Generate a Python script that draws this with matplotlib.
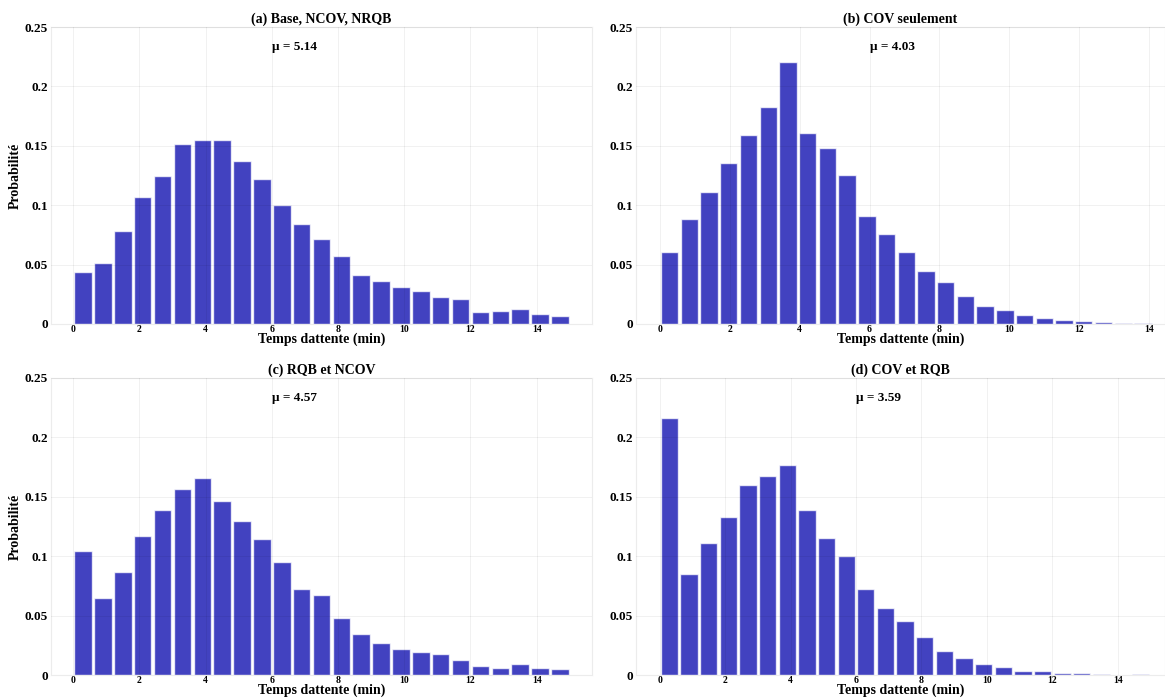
import numpy as np
import matplotlib
matplotlib.use("Agg")
import matplotlib.pyplot as plt

plt.rcParams["font.family"] = ["Liberation Serif", "DejaVu Serif"]
plt.rcParams["font.weight"] = "bold"

# probability per waiting-time bin (25 bins per scenario)
titles = ["(a) Base, NCOV, NRQB", "(b) COV seulement", "(c) RQB et NCOV", "(d) COV et RQB"]
means = [5.14, 4.03, 4.57, 3.59]
t_max = [15.0, 14.1, 15.0, 15.0]

p_base = [0.0440, 0.0512, 0.0787, 0.1069, 0.1249, 0.1512, 0.1545, 0.1551, 0.1372, 0.1218,
          0.1002, 0.0843, 0.0717, 0.0571, 0.0414, 0.0364, 0.0308, 0.0280, 0.0227, 0.0213,
          0.0101, 0.0112, 0.0129, 0.0081, 0.0064]
p_cov = [0.0607, 0.0887, 0.1109, 0.1358, 0.1593, 0.1828, 0.2203, 0.1604, 0.1484, 0.1257,
         0.0910, 0.0756, 0.0610, 0.0445, 0.0353, 0.0238, 0.0148, 0.0120, 0.0078, 0.0048,
         0.0036, 0.0028, 0.0020, 0.0006, 0.0005]
p_rqb_ncov = [0.1047, 0.0644, 0.0871, 0.1170, 0.1391, 0.1562, 0.1660, 0.1467, 0.1293, 0.1142,
              0.0952, 0.0722, 0.0672, 0.0482, 0.0344, 0.0272, 0.0218, 0.0190, 0.0174, 0.0126,
              0.0073, 0.0062, 0.0092, 0.0059, 0.0048]
p_cov_rqb = [0.2164, 0.0848, 0.1109, 0.1333, 0.1599, 0.1677, 0.1767, 0.1386, 0.1153, 0.0999,
             0.0725, 0.0566, 0.0454, 0.0319, 0.0204, 0.0140, 0.0090, 0.0067, 0.0036, 0.0036,
             0.0020, 0.0017, 0.0008, 0.0003, 0.0008]
series = [p_base, p_cov, p_rqb_ncov, p_cov_rqb]

y_ticks = [0, 0.05, 0.1, 0.15, 0.2, 0.25]
y_tick_labels = ["0", "0.05", "0.1", "0.15", "0.2", "0.25"]
x_ticks = [0, 2, 4, 6, 8, 10, 12, 14]

W, H = 1165, 699
fig = plt.figure(figsize=(W / 100, H / 100), dpi=100)

# axes boxes in pixels: left, right, top, bottom
boxes = [(51, 592, 27, 324), (636, 1165, 27, 324),
         (51, 592, 378, 675), (636, 1165, 378, 675)]
xlims = [(-0.67, 15.67), (-0.68, 14.45), (-0.67, 15.67), (-0.72, 15.44)]

for i in range(4):
    l, r, t, b = boxes[i]
    ax = fig.add_axes([l / W, 1 - b / H, (r - l) / W, (b - t) / H])
    vals = np.array(series[i])
    edges = np.linspace(0, t_max[i], len(vals) + 1)
    centers = (edges[:-1] + edges[1:]) / 2
    bw = edges[1] - edges[0]
    ax.bar(centers, vals, width=bw * 0.88, color="#0000aa", alpha=0.74,
           edgecolor="white", linewidth=1.0, zorder=1)

    ax.set_xlim(*xlims[i])
    ax.set_ylim(0, 0.25)
    ax.set_yticks(y_ticks)
    ax.set_yticklabels(y_tick_labels, fontsize=9.5, fontweight="bold")
    ax.set_xticks(x_ticks)
    ax.set_xticklabels([str(v) for v in x_ticks], fontsize=7, fontweight="bold")
    ax.tick_params(axis="y", length=0, pad=2)
    ax.tick_params(axis="x", length=0, pad=1)
    ax.grid(True, color="black", alpha=0.055, linewidth=0.7, zorder=3)
    ax.set_axisbelow(False)
    for s in ax.spines.values():
        s.set_color("#ececec")
        s.set_linewidth(0.8)

    ax.set_title(titles[i], fontsize=10, fontweight="bold", pad=3)
    ax.text(6.0, 0.233, "\u03bc = %.2f" % means[i], fontsize=9.5, fontweight="bold",
            ha="left", va="center")
    ax.set_xlabel("Temps dattente (min)", fontsize=10, fontweight="bold", labelpad=-1)
    if i % 2 == 0:
        ax.set_ylabel("Probabilit\u00e9", fontsize=10, fontweight="bold", labelpad=2)

fig.savefig("out.png", dpi=100)
